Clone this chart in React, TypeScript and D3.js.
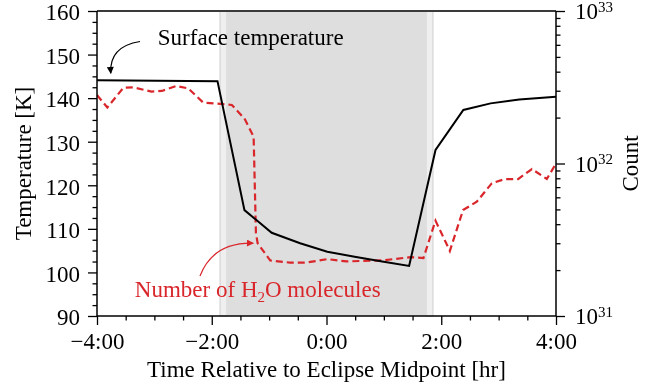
import React, { useEffect, useRef } from 'react';
import * as d3 from 'd3';

// Surface temperature (K) vs hours from eclipse midpoint
const tempHours = [-4.0, -1.9, -1.43, -0.955, -0.46, 0.014, 0.49, 0.97, 1.44, 1.9, 2.385, 2.86, 3.36, 4.0];
const tempValues = [144.1, 143.9, 114.3, 109.1, 106.7, 104.75, 103.6, 102.5, 101.5, 128.1, 137.3, 138.8, 139.7, 140.3];

// Number of H2O molecules vs hours
const countHours = [-4.0, -3.82, -3.54, -3.37, -3.05, -2.87, -2.62, -2.41, -2.15, -1.8, -1.65, -1.43, -1.27, -1.23, -1.2,
  -0.98, -0.64, -0.35, 0.01, 0.35, 0.99, 1.46, 1.69, 1.9, 2.15, 2.38, 2.62, 2.88, 3.11, 3.34, 3.58, 3.84, 4.0];
const countValues = [2.81e32, 2.33e32, 3.14e32, 3.16e32, 2.96e32, 2.99e32, 3.22e32, 3.11e32, 2.51e32, 2.45e32, 2.42e32,
  1.97e32, 1.5e32, 3.5e31, 3.0e31, 2.31e31, 2.24e31, 2.24e31, 2.36e31, 2.28e31, 2.32e31, 2.43e31, 2.4e31, 4.22e31,
  2.67e31, 4.95e31, 5.62e31, 7.41e31, 7.91e31, 7.91e31, 9.2e31, 7.91e31, 1.0e32];

// Eclipse phases (hours)
const umbra = [-1.734, 1.734];
const penumbra = [-1.856, 1.856];

const xTickValues = [-4, -2, 0, 2, 4];
const xTickLabels = ['\u22124:00', '\u22122:00', '0:00', '2:00', '4:00'];
const tempTickValues = [90, 100, 110, 120, 130, 140, 150, 160];
const countTickExponents = [31, 32, 33];

const FONT = "'Liberation Serif', 'Times New Roman', serif";
const FS = 23;
const RED = '#d9262b';

const App: React.FC = () => {
  const svgRef = useRef<SVGSVGElement | null>(null);

  useEffect(() => {
    if (!svgRef.current) return;
    const width = 662;
    const height = 392;
    const margin = { top: 11, right: 106, bottom: 76, left: 97 };

    const svg = d3.select(svgRef.current)
      .attr('width', width)
      .attr('height', height)
      .html('');

    const x = d3.scaleLinear().domain([-4, 4]).range([margin.left, width - margin.right]);
    const yT = d3.scaleLinear().domain([90, 160]).range([height - margin.bottom, margin.top]);
    const yC = d3.scaleLog().domain([1e31, 1e33]).range([height - margin.bottom, margin.top]);
    const x0 = margin.left, x1 = width - margin.right;
    const y0 = margin.top, y1 = height - margin.bottom;

    const defs = svg.append('defs');
    [['arrowBlack', '#000'], ['arrowRed', RED]].forEach(([id, color]) => {
      defs.append('marker')
        .attr('id', id)
        .attr('viewBox', '0 0 10 10')
        .attr('refX', 9)
        .attr('refY', 5)
        .attr('markerWidth', 9)
        .attr('markerHeight', 7)
        .attr('markerUnits', 'userSpaceOnUse')
        .attr('orient', 'auto')
        .append('path')
        .attr('d', 'M0,0 L10,5 L0,10 z')
        .attr('fill', color);
    });
    defs.append('clipPath').attr('id', 'plotClip')
      .append('rect').attr('x', x0).attr('y', y0).attr('width', x1 - x0).attr('height', y1 - y0);

    // Eclipse shading
    const shade = svg.append('g');
    [[penumbra[0], umbra[0]], [umbra[1], penumbra[1]]].forEach(([a, b]) => {
      shade.append('rect')
        .attr('x', x(a)).attr('y', y0)
        .attr('width', x(b) - x(a)).attr('height', y1 - y0)
        .attr('fill', '#efefef')
        .attr('stroke', '#cfcfcf')
        .attr('stroke-width', 1);
    });
    shade.append('rect')
      .attr('x', x(umbra[0])).attr('y', y0)
      .attr('width', x(umbra[1]) - x(umbra[0])).attr('height', y1 - y0)
      .attr('fill', '#dedede');

    const plot = svg.append('g').attr('clip-path', 'url(#plotClip)');

    const countLine = d3.line<number>()
      .x((_, i) => x(countHours[i]))
      .y(d => yC(d));
    plot.append('path')
      .datum(countValues)
      .attr('fill', 'none')
      .attr('stroke', RED)
      .attr('stroke-width', 2.2)
      .attr('stroke-dasharray', '7,4')
      .attr('d', countLine);

    const tempLine = d3.line<number>()
      .x((_, i) => x(tempHours[i]))
      .y(d => yT(d));
    plot.append('path')
      .datum(tempValues)
      .attr('fill', 'none')
      .attr('stroke', '#000')
      .attr('stroke-width', 2)
      .attr('d', tempLine);

    // Axes
    const styleAxis = (g: d3.Selection<SVGGElement, unknown, null, undefined>) => {
      g.select('.domain').remove();
      g.selectAll('line').attr('stroke', '#000').attr('stroke-width', 1.3);
      g.selectAll('text').attr('font-family', FONT).attr('font-size', FS).attr('fill', '#000');
    };

    svg.append('g')
      .attr('transform', `translate(${x0},0)`)
      .call(d3.axisLeft(yT).tickValues(d3.range(90, 160.1, 2.5).filter(v => v % 10 !== 0)).tickSize(4.5).tickFormat(() => ''))
      .call(styleAxis);
    svg.append('g')
      .attr('transform', `translate(${x0},0)`)
      .call(d3.axisLeft(yT).tickValues(tempTickValues).tickSize(9).tickPadding(8).tickFormat(d3.format('d')))
      .call(styleAxis)
      .selectAll('text').attr('dy', '0.38em');

    svg.append('g')
      .attr('transform', `translate(0,${y1})`)
      .call(d3.axisBottom(x).tickValues(d3.range(-4, 4.01, 0.5).filter(v => v % 2 !== 0)).tickSize(4.5).tickFormat(() => ''))
      .call(styleAxis);
    svg.append('g')
      .attr('transform', `translate(0,${y1})`)
      .call(d3.axisBottom(x).tickValues(xTickValues).tickSize(9).tickPadding(8)
        .tickFormat((d, i) => xTickLabels[i]))
      .call(styleAxis);

    const minorCounts: number[] = [];
    countTickExponents.slice(0, -1).forEach(e => {
      for (let m = 2; m <= 9; m++) minorCounts.push(m * Math.pow(10, e));
    });
    svg.append('g')
      .attr('transform', `translate(${x1},0)`)
      .call(d3.axisRight(yC).tickValues(minorCounts).tickSize(4.5).tickFormat(() => ''))
      .call(styleAxis);
    const rightMajor = svg.append('g')
      .attr('transform', `translate(${x1},0)`)
      .call(d3.axisRight(yC).tickValues(countTickExponents.map(e => Math.pow(10, e))).tickSize(9).tickFormat(() => ''))
      .call(styleAxis);
    countTickExponents.forEach(e => {
      const t = rightMajor.append('text')
        .attr('x', 19)
        .attr('y', yC(Math.pow(10, e)) + 8)
        .attr('font-family', FONT)
        .attr('font-size', FS)
        .attr('fill', '#000');
      t.append('tspan').text('10');
      t.append('tspan').attr('font-size', 15).attr('dy', -7.5).text(String(e));
    });

    // Spines
    const spines = svg.append('g').attr('fill', 'none');
    spines.append('line').attr('x1', x0).attr('x2', x1).attr('y1', y0).attr('y2', y0)
      .attr('stroke', '#3a3a3a').attr('stroke-width', 1.8);
    spines.append('line').attr('x1', x0).attr('x2', x1).attr('y1', y1).attr('y2', y1)
      .attr('stroke', '#000').attr('stroke-width', 1.5);
    spines.append('line').attr('x1', x0).attr('x2', x0).attr('y1', y0).attr('y2', y1)
      .attr('stroke', '#000').attr('stroke-width', 1.5);
    spines.append('line').attr('x1', x1).attr('x2', x1).attr('y1', y0).attr('y2', y1)
      .attr('stroke', '#000').attr('stroke-width', 1.5);

    // Axis titles
    svg.append('text')
      .attr('transform', `translate(31,${(y0 + y1) / 2}) rotate(-90)`)
      .attr('text-anchor', 'middle')
      .attr('font-family', FONT).attr('font-size', FS)
      .text('Temperature [K]');
    svg.append('text')
      .attr('transform', `translate(638,${(y0 + y1) / 2}) rotate(-90)`)
      .attr('text-anchor', 'middle')
      .attr('font-family', FONT).attr('font-size', FS)
      .text('Count');
    svg.append('text')
      .attr('x', (x0 + x1) / 2).attr('y', 377)
      .attr('text-anchor', 'middle')
      .attr('font-family', FONT).attr('font-size', FS)
      .text('Time Relative to Eclipse Midpoint [hr]');

    // Annotations (anchored in data units)
    const tTip = { h: -3.76, v: 145.7 };
    const tStart = { h: -3.25, v: 153.0 };
    const tText = { h: -2.94, v: 152.2 };
    const ax0 = x(tStart.h), ay0 = yT(tStart.v), ax1 = x(tTip.h), ay1 = yT(tTip.v);
    svg.append('path')
      .attr('d', `M${ax0},${ay0} Q${ax0 - 31},${ay0 + 5} ${ax1},${ay1}`)
      .attr('fill', 'none').attr('stroke', '#000').attr('stroke-width', 1.2)
      .attr('marker-end', 'url(#arrowBlack)');
    svg.append('text')
      .attr('x', x(tText.h)).attr('y', yT(tText.v))
      .attr('font-family', FONT).attr('font-size', FS)
      .text('Surface temperature');

    const cTip = { h: -1.276, v: 3.0e31 };
    const cStart = { h: -2.205, v: 1.83e31 };
    const cText = { h: -3.34, v: 1.33e31 };
    const bx0 = x(cStart.h), by0 = yC(cStart.v), bx1 = x(cTip.h), by1 = yC(cTip.v);
    svg.append('path')
      .attr('d', `M${bx0},${by0} Q${bx0 + 13},${by1 - 1} ${bx1},${by1}`)
      .attr('fill', 'none').attr('stroke', RED).attr('stroke-width', 1.2)
      .attr('marker-end', 'url(#arrowRed)');
    const ct = svg.append('text')
      .attr('x', x(cText.h)).attr('y', yC(cText.v))
      .attr('font-family', FONT).attr('font-size', FS)
      .attr('fill', RED);
    ct.append('tspan').text('Number of H');
    ct.append('tspan').attr('font-size', 15).attr('dy', 5).text('2');
    ct.append('tspan').attr('dy', -5).text('O molecules');
  }, []);

  return <svg ref={svgRef} style={{ position: 'fixed', left: 0, top: 0 }} />;
};

export default App;
